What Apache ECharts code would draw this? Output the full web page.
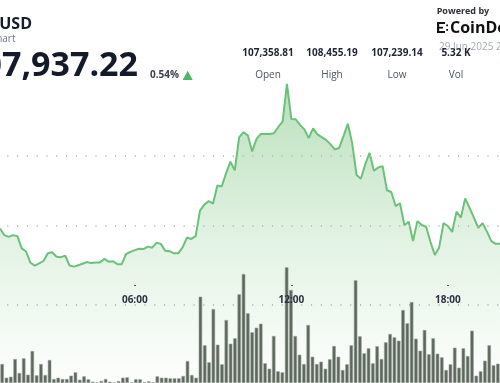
<!DOCTYPE html>
<html><head><meta charset="utf-8">
<script src="https://cdn.jsdelivr.net/npm/echarts@6/dist/echarts.min.js"></script>
<style>html,body{margin:0;padding:0;background:#fff}#c{width:500px;height:383px}</style>
</head><body><div id="c"></div>
<script>
// ---- data ----
const startTime = '00:50';
const stepMinutes = 10;
const pointCount = 116;
const tickLabels = ['06:00', '12:00', '18:00'];
const priceValues = [
  107993, 107974, 107969, 107974, 107971, 107936, 107927, 107895, 107887, 107893,
  107900, 107922, 107925, 107912, 107911, 107915, 107887, 107884, 107888, 107892,
  107897, 107894, 107896, 107896, 107906, 107898, 107899, 107891, 107891, 107920,
  107926, 107931, 107935, 107934, 107941, 107938, 107952, 107949, 107929, 107928,
  107922, 107922, 107939, 107967, 107963, 107971, 108044, 108061, 108071, 108064,
  108116, 108113, 108151, 108184, 108159, 108253, 108268, 108259, 108213, 108249,
  108263, 108263, 108263, 108265, 108283, 108298, 108406, 108306, 108305, 108289,
  108276, 108251, 108279, 108262, 108254, 108246, 108234, 108219, 108223, 108257,
  108292, 108237, 108146, 108135, 108176, 108209, 108158, 108167, 108171, 108102,
  108097, 108057, 108065, 108002, 108012, 107957, 108014, 108003, 107998, 107955,
  107917, 107938, 108008, 108000, 107983, 108041, 108024, 108079, 108052, 108024,
  107995, 108008, 107984, 107957, 107949, 107949
];
const volumeValues = [
  19, 5.3, 6.3, 24, 10, 24.7, 8.3, 32, 7.7, 19,
  8, 23, 4, 5.3, 4, 4, 7.3, 10.7, 3.3, 6.7,
  3.7, 1.3, 0.5, 2, 4, 1.3, 0.5, 2, 5.3, 5.7,
  0.5, 3.7, 3.7, 0.7, 1.7, 0.7, 6.7, 5.3, 5.3, 4.7,
  4.7, 4.7, 7, 22, 8, 5.3, 86.3, 37.7, 20.7, 74,
  38.3, 18.7, 63, 39.3, 44.7, 88.7, 109, 69.7, 50.7, 55.3,
  59.3, 19.7, 14.3, 47, 11.7, 10.7, 115.7, 93, 47, 28.3,
  19, 58, 26.3, 19, 21.3, 14.3, 23.7, 37, 26.3, 13,
  18.7, 37.7, 102.7, 46.7, 29.7, 34.7, 19.7, 36.7, 24, 40.7,
  49, 45.7, 42.3, 73, 59.7, 81, 44.3, 32.3, 53, 28.7,
  44.7, 29.3, 25.7, 13, 18.7, 35.3, 15.3, 34.7, 27, 52.3,
  7.3, 11.7, 22.3, 37.7, 17.7, 19.3
];
const priceGridLevels = [108000, 108200];
const volumeGridLevels = [78];
const pairTitle = 'BTC-USD';
const chartSubtitle = 'Price chart';
const lastPrice = '107,937.22';
const changePct = '0.54%';
const statLabels = ['Open', 'High', 'Low', 'Vol'];
const statValues = ['107,358.81', '108,455.19', '107,239.14', '5.32 K'];
const dateText = '29 Jun 2025 22:00 UTC';

// ---- build categories ----
function buildTimes() {
  const [h, m] = startTime.split(':').map(Number);
  const out = [];
  for (let i = 0; i < pointCount; i++) {
    const t = h * 60 + m + i * stepMinutes;
    const hh = Math.floor(t / 60) % 24, mm = t % 60;
    out.push(String(hh).padStart(2, '0') + ':' + String(mm).padStart(2, '0'));
  }
  return out;
}
const categories = buildTimes();

const FONT = '"Open Sans", "Noto Sans", sans-serif';
const chart = echarts.init(document.getElementById('c'), null, { renderer: 'canvas' });

const statX = [268, 332, 397, 456];
const graphics = [
  { type: 'text', style: { text: pairTitle, x: 32, y: 24.5, textAlign: 'right', textVerticalAlign: 'middle', font: 'bold 16px ' + FONT, fill: '#161d2b' } },
  { type: 'text', style: { text: chartSubtitle, x: 15.5, y: 39.5, textAlign: 'right', textVerticalAlign: 'middle', font: '10px ' + FONT, fill: '#6b7280' } },
  { type: 'text', style: { text: lastPrice, x: 138, y: 66, textAlign: 'right', textVerticalAlign: 'middle', font: 'bold 34px ' + FONT, fill: '#131a2a' } },
  { type: 'text', style: { text: changePct, x: 150, y: 75.5, textAlign: 'left', textVerticalAlign: 'middle', font: 'bold 10px ' + FONT, fill: '#3a4150' } },
  { type: 'polygon', shape: { points: [[182.7, 80], [187.7, 70.7], [192.7, 80]] }, style: { fill: '#4fb563' } },
  { type: 'text', style: { text: 'Powered by', x: 436.7, y: 11, textAlign: 'left', textVerticalAlign: 'middle', font: 'bold 9px ' + FONT, fill: '#2b2f36' } },
  { type: 'text', style: { text: 'CoinDesk', x: 450, y: 28, textAlign: 'left', textVerticalAlign: 'middle', font: 'bold 16px ' + FONT, fill: '#111' } },
  { type: 'rect', shape: { x: 437, y: 22, width: 2.2, height: 11 }, style: { fill: '#111' } },
  { type: 'rect', shape: { x: 437, y: 22, width: 8, height: 2 }, style: { fill: '#111' } },
  { type: 'rect', shape: { x: 437, y: 26.8, width: 6, height: 1.8 }, style: { fill: '#111' } },
  { type: 'rect', shape: { x: 437, y: 31, width: 8, height: 2 }, style: { fill: '#111' } },
  { type: 'rect', shape: { x: 446.2, y: 24.5, width: 1.8, height: 1.8 }, style: { fill: '#111' } },
  { type: 'rect', shape: { x: 446.2, y: 29, width: 1.8, height: 1.8 }, style: { fill: '#111' } },
  { type: 'text', style: { text: dateText, x: 439, y: 47, textAlign: 'left', textVerticalAlign: 'middle', font: '10px ' + FONT, fill: '#a3a9b2' } }
];
statLabels.forEach((lab, i) => {
  graphics.push({ type: 'text', z: 10, style: { text: statValues[i], x: statX[i], y: 53, textAlign: 'center', textVerticalAlign: 'middle', font: 'bold 10px ' + FONT, fill: '#1f2633' } });
  graphics.push({ type: 'text', style: { text: lab, x: statX[i], y: 75, textAlign: 'center', textVerticalAlign: 'middle', font: '10px ' + FONT, fill: '#4b5563' } });
});

const dotted = { color: '#bdbdbd', width: 2, type: [1, 8.8], dashOffset: 2.5 };

chart.setOption({
  animation: false,
  backgroundColor: '#fff',
  graphic: graphics,
  grid: [
    { left: 0, right: 0, top: 66, bottom: 0 },
    { left: 0, right: 0, top: 223, bottom: 0 }
  ],
  xAxis: [
    {
      type: 'category', gridIndex: 0, data: categories, boundaryGap: false,
      position: 'bottom', offset: -98, z: 20,
      axisLine: { show: false },
      axisTick: { show: true, length: 1, inside: false, lineStyle: { color: '#555', width: 2 },
        interval: (i, v) => tickLabels.includes(v) },
      axisLabel: { show: true, margin: 10, color: '#2a3140', fontFamily: FONT, fontWeight: 'bold', fontSize: 10,
        interval: (i, v) => tickLabels.includes(v) },
      splitLine: { show: false }
    },
    {
      type: 'category', gridIndex: 1, data: categories, boundaryGap: true,
      axisLine: { show: false }, axisTick: { show: false }, axisLabel: { show: false }, splitLine: { show: false }
    }
  ],
  yAxis: [
    { type: 'value', gridIndex: 0, min: 107551.43, max: 108457.14, show: false, splitLine: { show: false } },
    { type: 'value', gridIndex: 1, min: 0, max: 160, show: false, splitLine: { show: false } }
  ],
  series: [
    {
      type: 'line', xAxisIndex: 0, yAxisIndex: 0, data: priceValues,
      showSymbol: false, symbol: 'none', z: 2,
      lineStyle: { color: '#6cc17a', width: 2 },
      areaStyle: {
        color: new echarts.graphic.LinearGradient(0, 0, 0, 1, [
          { offset: 0, color: 'rgba(76,175,80,0.55)' },
          { offset: 0.5, color: 'rgba(76,175,80,0.24)' },
          { offset: 0.75, color: 'rgba(76,175,80,0.12)' },
          { offset: 1, color: 'rgba(76,175,80,0.02)' }
        ])
      },
      markLine: {
        silent: true, symbol: 'none', label: { show: false }, lineStyle: dotted,
        data: priceGridLevels.map(v => ({ yAxis: v }))
      }
    },
    {
      type: 'bar', xAxisIndex: 1, yAxisIndex: 1, data: volumeValues, z: 3,
      barWidth: 3.5,
      itemStyle: { color: '#5d675c', borderColor: '#9aa39a', borderWidth: 0.6 },
      markLine: {
        silent: true, symbol: 'none', label: { show: false }, lineStyle: dotted, z: 1,
        data: volumeGridLevels.map(v => ({ yAxis: v }))
      }
    }
  ]
});
</script></body></html>
